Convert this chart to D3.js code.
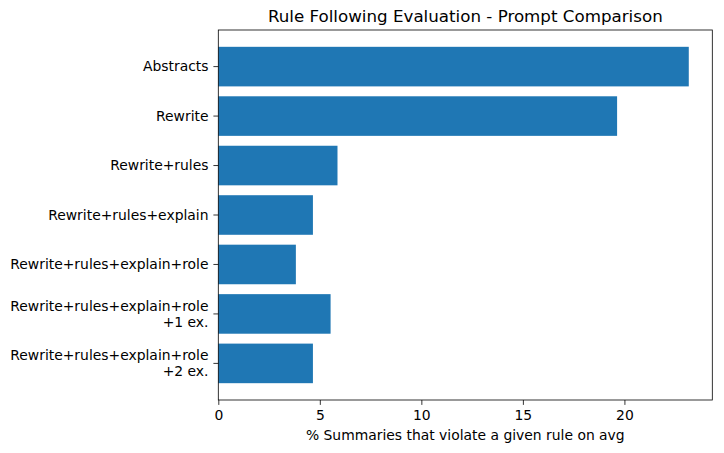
<!DOCTYPE html>
<html><head><meta charset="utf-8">
<script src="https://cdn.jsdelivr.net/npm/d3@7"></script>
<style>body{margin:0;background:#fff}svg{display:block}text{font-family:"DejaVu Sans",sans-serif;fill:#000}</style>
</head><body>
<script>
const categories = ["Abstracts","Rewrite","Rewrite+rules","Rewrite+rules+explain","Rewrite+rules+explain+role","Rewrite+rules+explain+role\n+1 ex.","Rewrite+rules+explain+role\n+2 ex."];
const values = [23.17, 19.64, 5.87, 4.66, 3.82, 5.53, 4.66];
const xTicks = [0,5,10,15,20];
const title = "Rule Following Evaluation - Prompt Comparison";
const xLabel = "% Summaries that violate a given rule on avg";

const W=724,H=453, L=218.3, R=712.3, T=30, B=400;
const svg=d3.select("body").append("svg").attr("width",W).attr("height",H);
const n=categories.length;
const x=d3.scaleLinear().domain([0,d3.max(values)*1.05]).range([L,R]);
const y=d3.scaleLinear().domain([-0.74,n-1+0.74]).range([T,B]);
const bh=y(0.4)-y(-0.4);
svg.selectAll("rect.bar").data(values).enter().append("rect")
  .attr("x",x(0)).attr("y",(d,i)=>y(i)-bh/2).attr("width",d=>x(d)-x(0)).attr("height",bh).attr("fill","#1f77b4");
// frame
svg.append("rect").attr("x",L).attr("y",T).attr("width",R-L).attr("height",B-T).attr("fill","none").attr("stroke","#000").attr("stroke-width",0.8);
// x axis
const xa=svg.append("g").attr("transform",`translate(0,${B})`).call(d3.axisBottom(x).tickValues(xTicks).tickSize(4.9).tickPadding(5.2).tickFormat(d3.format("d")));
xa.select(".domain").remove();
xa.selectAll("line").attr("stroke","#000").attr("stroke-width",0.8);
xa.selectAll("text").attr("font-size","13.9px").attr("font-family","DejaVu Sans");
// y axis ticks and labels
const g=svg.append("g");
categories.forEach((c,i)=>{
  g.append("line").attr("x1",L-4.9).attr("x2",L).attr("y1",y(i)).attr("y2",y(i)).attr("stroke","#000").attr("stroke-width",0.8);
  const lines=c.split("\n");
  const lh=16.2;
  const t=g.append("text").attr("text-anchor","end").attr("font-size","13.9px");
  lines.forEach((ln,j)=>{
    t.append("tspan").attr("x",L-9.8).attr("y",y(i)+(j-(lines.length-1)/2)*lh).attr("dy","0.35em").text(ln);
  });
});
svg.append("text").attr("x",(L+R)/2).attr("y",T-8).attr("text-anchor","middle").attr("font-size","16.7px").text(title);
svg.append("text").attr("x",(L+R)/2).attr("y",439.5).attr("text-anchor","middle").attr("font-size","13.9px").text(xLabel);
</script>
</body></html>
